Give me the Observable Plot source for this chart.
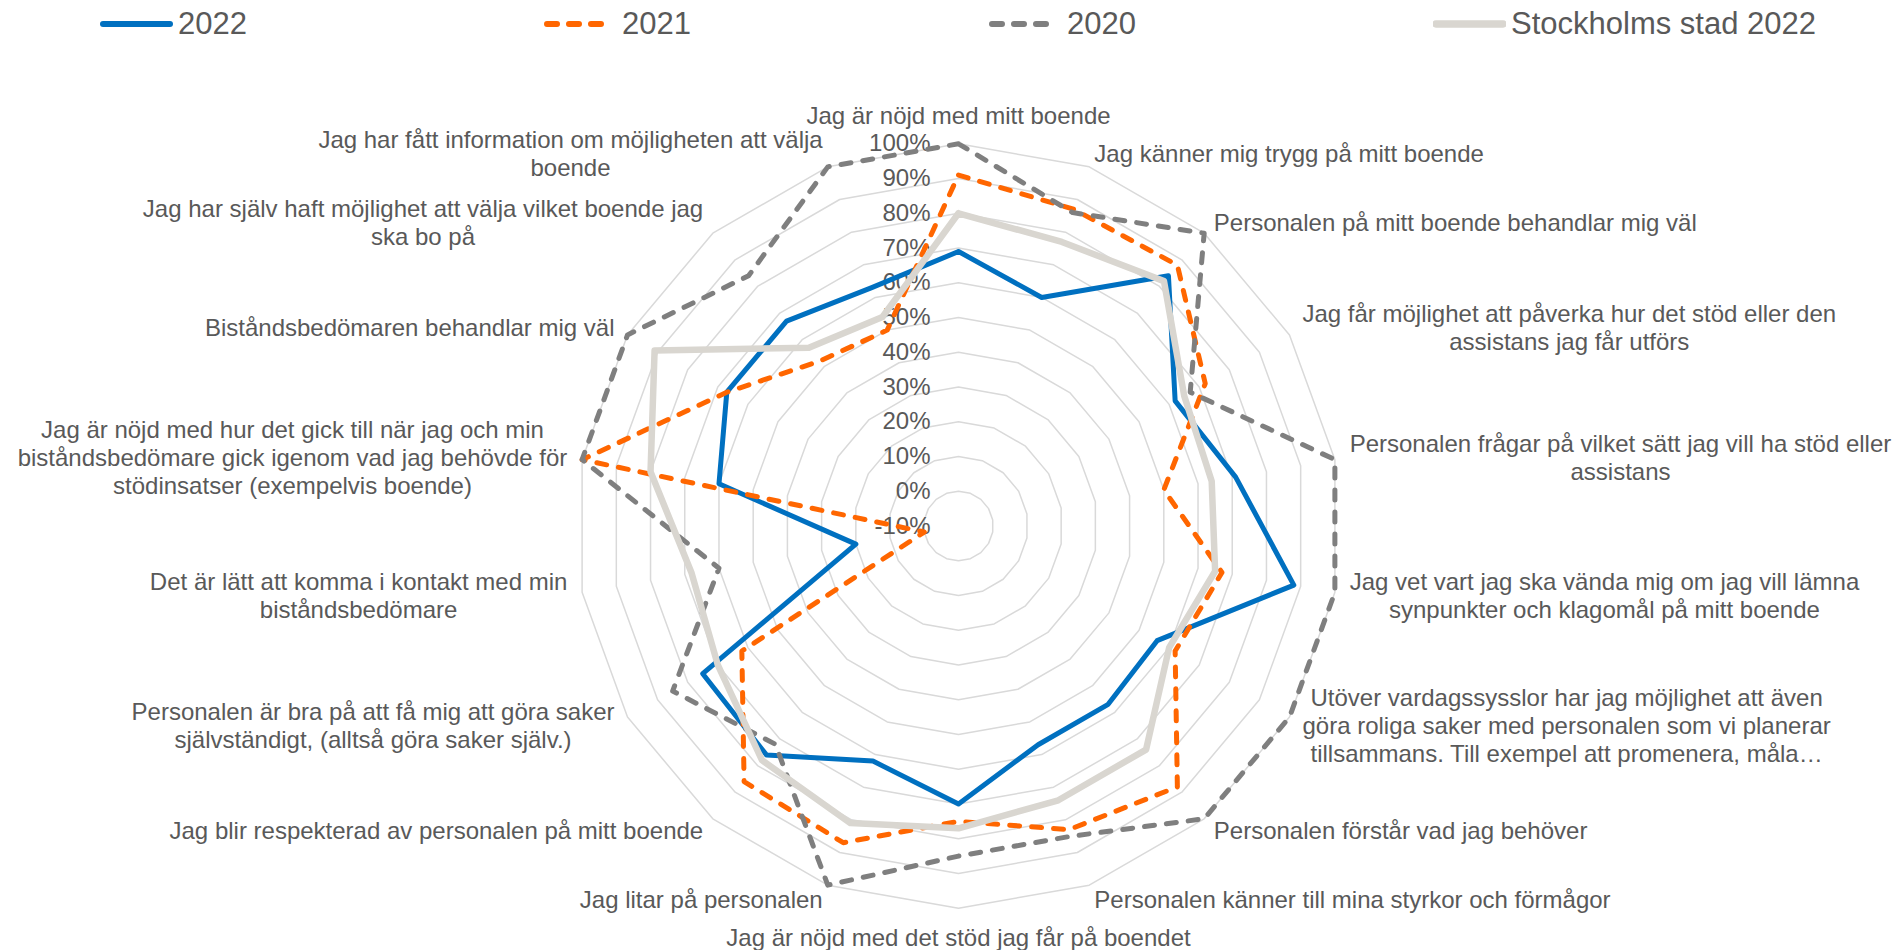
<!DOCTYPE html>
<html>
<head>
<meta charset="utf-8">
<script src="https://cdn.jsdelivr.net/npm/d3@7"></script>
<script src="https://cdn.jsdelivr.net/npm/@observablehq/plot@0.6"></script>
<style>
  body { margin: 0; background: #fff; font-family: "Liberation Sans", Arial, sans-serif; }
  #legend { position: relative; width: 1895px; height: 48px; }
  .item { position: absolute; top: 0; height: 48px; display: flex; align-items: center;
          font-size: 31px; color: #595959; white-space: nowrap; }
  .item svg { margin-right: 5px; }
  #chart svg { display: block; }
</style>
</head>
<body>
<div id="legend"></div>
<div id="chart"></div>
<script>
// ---------- data ----------
const categories = [
  "Jag är nöjd med mitt boende",
  "Jag känner mig trygg på mitt boende",
  "Personalen på mitt boende behandlar mig väl",
  "Jag får möjlighet att påverka hur det stöd eller den\nassistans jag får utförs",
  "Personalen frågar på vilket sätt jag vill ha stöd eller\nassistans",
  "Jag vet vart jag ska vända mig om jag vill lämna\nsynpunkter och klagomål på mitt boende",
  "Utöver vardagssysslor har jag möjlighet att även\ngöra roliga saker med personalen som vi planerar\ntillsammans. Till exempel att promenera, måla…",
  "Personalen förstår vad jag behöver",
  "Personalen känner till mina styrkor och förmågor",
  "Jag är nöjd med det stöd jag får på boendet",
  "Jag litar på personalen",
  "Jag blir respekterad av personalen på mitt boende",
  "Personalen är bra på att få mig att göra saker\nsjälvständigt, (alltså göra saker själv.)",
  "Det är lätt att komma i kontakt med min\nbiståndsbedömare",
  "Jag är nöjd med hur det gick till när jag och min\nbiståndsbedömare gick igenom vad jag behövde för\nstödinsatser (exempelvis boende)",
  "Biståndsbedömaren behandlar mig väl",
  "Jag har själv haft möjlighet att välja vilket boende jag\nska bo på",
  "Jag har fått information om möjligheten att välja\nboende"
];
const seriesNames = ["2022", "2021", "2020", "Stockholms stad 2022"];
const values2022      = [69, 60, 84, 62, 71, 88, 56, 57, 57, 70, 62, 76, 75, 20, 60, 67, 67, 63];
const values2021      = [91, 87, 88, 72, 50, 67, 62, 88, 83, 75, 87, 86, 62, 0, 100, 67, 52, 50];
const values2020      = [100, 86, 100, 67, 100, 100, 100, 100, 85, 85, 100, 72, 85, 60, 100, 100, 84, 100];
const valuesStockholm = [80, 77, 82, 65, 64, 65, 60, 74, 74, 77, 81, 78, 70, 68, 80, 91, 57, 54];
const tickValues = [-10, 0, 10, 20, 30, 40, 50, 60, 70, 80, 90, 100];

// ---------- styles ----------
const styles = [
  {stroke: "#0070C0", strokeWidth: 5, dash: null},
  {stroke: "#FF6600", strokeWidth: 5, dash: "10,12"},
  {stroke: "#7F7F7F", strokeWidth: 5, dash: "10,12"},
  {stroke: "#D9D6D0", strokeWidth: 6.5, dash: null}
];
const seriesValues = [values2022, values2021, values2020, valuesStockholm];

// ---------- geometry ----------
const N = categories.length;
const vMin = tickValues[0], vMax = tickValues[tickValues.length - 1];
const RU = vMax - vMin;
const W = 1895, LEG = 48, H = 950 - LEG;
const CX = 958, CY = 525.5 - LEG, R = 382.2;
const upx = RU / R;
const ang = i => i * 2 * Math.PI / N;
const px = (v, i) => (v - vMin) * Math.sin(ang(i));
const py = (v, i) => (v - vMin) * Math.cos(ang(i));

const rings = [];
tickValues.filter(t => t > vMin).forEach(t => {
  for (let i = 0; i <= N; i++) rings.push({t, i: i % N});
});

const seriesRows = seriesValues.map(vals => {
  const rows = vals.map((v, i) => ({v, i}));
  rows.push(rows[0]);
  return rows;
});

const ctx = document.createElement("canvas").getContext("2d");
ctx.font = "24px 'Liberation Sans', Arial, sans-serif";
const LINE = 28, PAD = 15;
const labelRows = categories.map((c, i) => {
  const s = Math.sin(ang(i)), co = Math.cos(ang(i));
  const lines = c.split("\n");
  const w = Math.max(...lines.map(l => ctx.measureText(l).width));
  const h = lines.length * LINE;
  const ax = CX + (R + PAD) * s, ay = CY - (R + PAD) * co;
  let bx = ax, by = ay;
  if (Math.abs(s) < 1e-6) by = ay - co * h / 2;
  else bx = ax + Math.sign(s) * w / 2;
  return {text: c, x: (bx - CX) * upx, y: (CY - by) * upx};
});

const marks = [
  Plot.line(rings, {x: d => px(d.t, d.i), y: d => py(d.t, d.i), z: "t",
    stroke: "#D9D9D9", strokeWidth: 1.5, strokeLinejoin: "miter"}),
  Plot.text(tickValues, {x: 0, y: t => t - vMin, text: t => t + "%", textAnchor: "end",
    dx: -28, fontSize: 24, fill: "#595959"}),
  ...seriesRows.map((rows, k) => Plot.line(rows, {
    x: d => px(d.v, d.i), y: d => py(d.v, d.i),
    stroke: styles[k].stroke, strokeWidth: styles[k].strokeWidth,
    strokeDasharray: styles[k].dash || undefined,
    strokeLinecap: "round", strokeLinejoin: "round"
  })),
  Plot.text(labelRows, {x: "x", y: "y", text: "text", textAnchor: "middle", lineAnchor: "middle",
    lineHeight: LINE / 24, fontSize: 24, fill: "#595959"})
];

const chart = Plot.plot({
  width: W, height: H,
  x: {domain: [-RU, RU], range: [CX - R, CX + R], axis: null},
  y: {domain: [-RU, RU], range: [CY + R, CY - R], axis: null},
  style: {fontFamily: "'Liberation Sans', Arial, sans-serif", overflow: "visible", background: "#fff"},
  marks
});
document.getElementById("chart").appendChild(chart);

const legend = document.getElementById("legend");
const legendX = [100, 544, 989, 1433];
seriesNames.forEach((name, k) => {
  const item = document.createElement("div");
  item.className = "item";
  item.style.left = legendX[k] + "px";
  const st = styles[k];
  const x2 = st.dash ? 60 : 70;
  item.innerHTML = `<svg width="73" height="14"><line x1="3" y1="7" x2="${x2}" y2="7" stroke="${st.stroke}"
     stroke-width="${st.strokeWidth + 1}" stroke-linecap="round" ${st.dash ? `stroke-dasharray="${st.dash}"` : ""}/></svg><span>${name}</span>`;
  legend.appendChild(item);
});
</script>
</body>
</html>
